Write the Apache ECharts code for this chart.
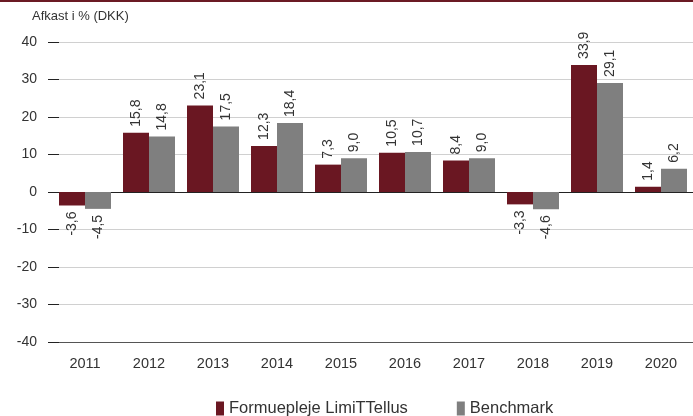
<!DOCTYPE html>
<html><head><meta charset="utf-8">
<script src="https://cdn.jsdelivr.net/npm/echarts@6/dist/echarts.min.js"></script>
<style>html,body{margin:0;padding:0;background:#fff}#c{width:693px;height:416px}</style>
</head><body><div id="c"></div>
<script>
const categories = ['2011','2012','2013','2014','2015','2016','2017','2018','2019','2020'];
const seriesNames = ['Formuepleje LimiTTellus','Benchmark'];
const fundValues = [-3.6, 15.8, 23.1, 12.3, 7.3, 10.5, 8.4, -3.3, 33.9, 1.4];
const benchValues = [-4.5, 14.8, 17.5, 18.4, 9.0, 10.7, 9.0, -4.6, 29.1, 6.2];
const yTicks = [-40, -30, -20, -10, 0, 10, 20, 30, 40];
const yTitle = 'Afkast i % (DKK)';

const FONT = '"Liberation Sans", Arial, sans-serif';
const TXT = '#333';
const colors = ['#6a1722', '#7f7f7f'];

function fmt(v){ return v.toFixed(1).replace('.', ','); }
function mkData(arr){
  return arr.map(v => ({
    value: v,
    label: v >= 0
      ? {position: 'top', align: 'left', verticalAlign: 'middle'}
      : {position: 'bottom', align: 'right', verticalAlign: 'middle'}
  }));
}
const splitColors = yTicks.map(t => t === yTicks[0] ? '#555' : (t === 0 ? '#222' : '#d0d0d0'));

const chart = echarts.init(document.getElementById('c'), null, {renderer: 'canvas'});
chart.setOption({
  animation: false,
  textStyle: {fontFamily: FONT},
  graphic: [
    {type: 'rect', left: 0, top: 0, shape: {width: 693, height: 2}, style: {fill: '#6b1a24'}},
    {type: 'text', left: 32, top: 10, style: {text: yTitle, font: '13px ' + FONT, fill: TXT}}
  ],
  grid: {left: 53, top: 42, width: 647, height: 300},
  legend: {
    data: seriesNames, top: 395, left: 211, icon: 'rect', itemWidth: 8, itemHeight: 14,
    itemGap: 49, textStyle: {fontSize: 16.5, color: TXT, fontFamily: FONT}
  },
  xAxis: {
    type: 'category', data: categories,
    axisLine: {show: false}, axisTick: {show: false},
    axisLabel: {fontSize: 14.5, color: TXT, margin: 14, fontFamily: FONT}
  },
  yAxis: [{
    type: 'value', min: -40, max: 40, interval: 10,
    axisLine: {show: false},
    axisTick: {show: true, inside: false, length: 5, lineStyle: {color: '#222'}},
    axisLabel: {fontSize: 14, color: TXT, margin: 16, fontFamily: FONT},
    splitLine: {show: true, lineStyle: {color: splitColors, width: 1}}
  }, {
    type: 'value', min: -40, max: 40, interval: 10, position: 'left',
    axisLine: {show: false},
    axisTick: {show: true, inside: true, length: 6, lineStyle: {color: '#222'}},
    axisLabel: {show: false}, splitLine: {show: false}
  }],
  series: [
    {name: seriesNames[0], type: 'bar', data: mkData(fundValues), barWidth: 26, barGap: '0%',
     itemStyle: {color: colors[0]},
     label: {show: true, rotate: 90, distance: 6, fontSize: 14, color: TXT, fontFamily: FONT,
             formatter: p => fmt(p.value)}},
    {name: seriesNames[1], type: 'bar', data: mkData(benchValues), barWidth: 26, barGap: '0%',
     itemStyle: {color: colors[1]},
     label: {show: true, rotate: 90, distance: 6, fontSize: 14, color: TXT, fontFamily: FONT,
             formatter: p => fmt(p.value)}}
  ]
});
</script></body></html>
